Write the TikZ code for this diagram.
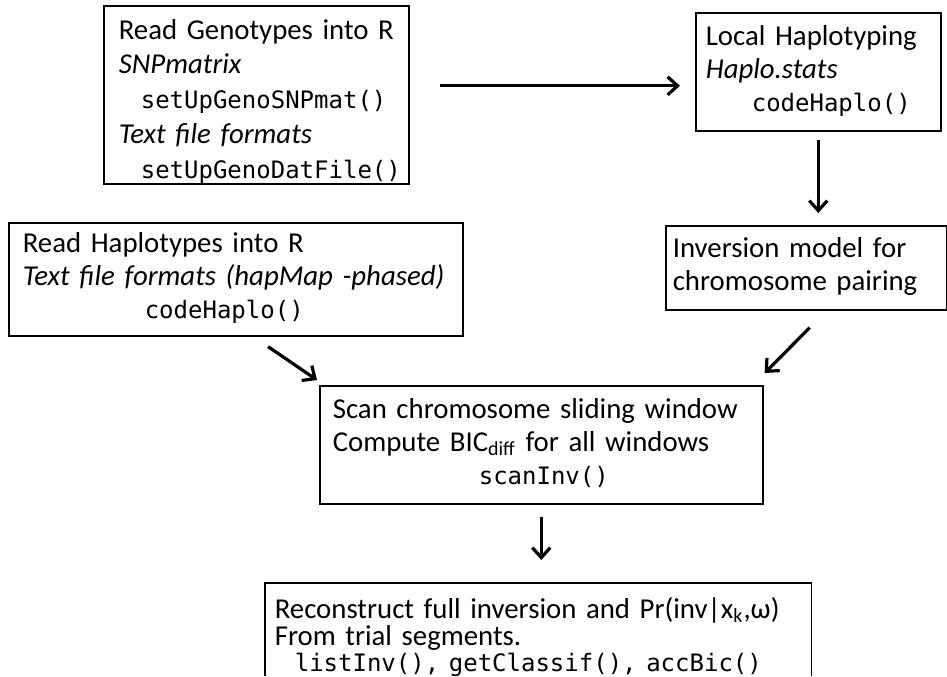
\documentclass[tikz,border=0pt]{standalone}
\usepackage{fontspec}
\setmainfont{Carlito}
\setmonofont{DejaVu Sans Mono}
\usetikzlibrary{arrows.meta}

\newcommand{\code}[1]{{\fontsize{12pt}{16.5pt}\selectfont\ttfamily #1}}
\newcommand{\droptext}[2]{\raisebox{-#1}[\height][\depth]{#2}}

\begin{document}
\begin{tikzpicture}[x=0.5pt,y=-0.5pt,>={Straight Barb[length=5pt,width=9pt]},
  box/.style={draw,line width=0.8pt,anchor=north west,align=left,inner ysep=0pt,
    font=\fontsize{14.4pt}{16.5pt}\selectfont},
  arr/.style={->,line width=1.6pt}]
\useasboundingbox (0,0) rectangle (947,676);
\coordinate (bottom) at (0,676);

\node[box,inner xsep=7.5pt,text width=137.5pt,minimum height=89pt,
  font=\fontsize{14.4pt}{17.4pt}\selectfont] (geno) at (103,5)
  {\droptext{3.5pt}{\begin{tabular}{@{}l@{}}
   Read Genotypes into R\\ \textit{SNPmatrix}\\ \hspace*{11pt}\code{setUpGenoSNPmat()}\\
   \textit{Text file formats}\\ \hspace*{11pt}\code{setUpGenoDatFile()}
   \end{tabular}}};
\node[box,inner xsep=5pt,text width=112.5pt,minimum height=59pt] (haplo) at (695,12)
  {\begin{tabular}{@{}l@{}}
   Local Haplotyping\\ \textit{Haplo.stats}\\ \hspace*{23pt}\code{codeHaplo()}
   \end{tabular}};
\node[box,inner xsep=7pt,text width=213pt,minimum height=56.5pt] (readhap) at (8,222)
  {\begin{tabular}{@{}l@{}}
   Read Haplotypes into R\\ \textit{Text file formats (hapMap -phased)}\\
   \hspace*{61pt}\code{codeHaplo()}
   \end{tabular}};
\node[box,inner xsep=3.5pt,text width=133.5pt,minimum height=42pt] (model) at (665,225)
  {\begin{tabular}{@{}l@{}}
   Inversion model for\\ chromosome pairing
   \end{tabular}};
\node[box,inner xsep=6.5pt,text width=208.5pt,minimum height=59pt] (scan) at (319,385)
  {\begin{tabular}{@{}l@{}}
   Scan chromosome sliding window\\ Compute BIC\textsubscript{diff} for all windows\\
   \hspace*{73pt}\code{scanInv()}
   \end{tabular}};
\node[box,draw=none,inner xsep=4.5pt,text width=263.5pt,minimum height=54pt,
  font=\fontsize{14.4pt}{12pt}\selectfont] (recon) at (265,583)
  {\begin{tabular}{@{}l@{}}
   Reconstruct full inversion and Pr(inv|x\textsubscript{k},ω)\\ From trial segments.\\
   \hspace*{10pt}\code{listInv(), getClassif(), accBic()}
   \end{tabular}};
\draw[line width=0.8pt] (recon.north west |- bottom) -- (recon.north west)
  -- (recon.north east) -- (recon.north east |- bottom);

\coordinate (g2h) at ([yshift=4.5pt]geno.east);
\draw[arr,shorten <=15pt,shorten >=7.5pt] (g2h) -- (g2h -| haplo.west);
\draw[arr,shorten <=4pt,shorten >=6pt] (haplo.south) -- (haplo.south |- model.north);
\draw[arr] ([shift={(130pt,-5pt)}]readhap.south west) -- ([shift={(-1pt,2.5pt)}]scan.north west);
\draw[arr] ([shift={(1.75pt,-8.5pt)}]model.south) -- ([shift={(0.5pt,6pt)}]scan.north east);
\draw[arr,shorten <=6pt,shorten >=11.5pt] (scan.south) -- (scan.south |- recon.north);
\end{tikzpicture}
\end{document}
